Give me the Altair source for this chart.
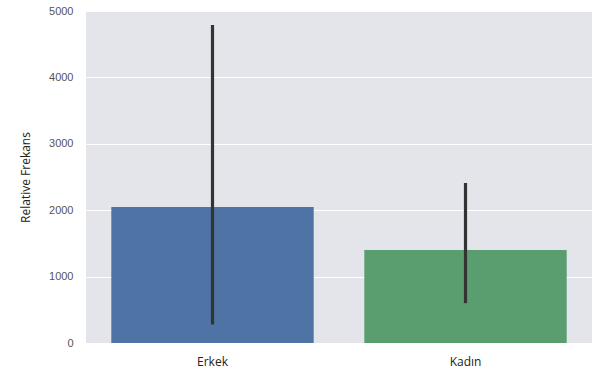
import altair as alt
import pandas as pd

categories = ["Erkek", "Kadın"]
values = [2050, 1400]
err_low = [280, 600]
err_high = [4790, 2410]
colors = ["#5073A6", "#5A9E6F"]

df = pd.DataFrame({"cinsiyet": categories, "deger": values, "lo": err_low, "hi": err_high})

x = alt.X("cinsiyet:N", sort=categories, title=None,
          scale=alt.Scale(paddingInner=0.2, paddingOuter=0.1),
          axis=alt.Axis(labelAngle=0, labelFontSize=12, labelColor="#222222", labelFont="Open Sans",
                        ticks=False, domain=False, labelPadding=13, grid=False))

bars = alt.Chart(df).mark_bar().encode(
    x=x,
    y=alt.Y("deger:Q", title="Relative Frekans",
            scale=alt.Scale(domain=[0, 5000], nice=False),
            axis=alt.Axis(values=[0, 1000, 2000, 3000, 4000, 5000], format="d", ticks=False, domain=False,
                          labelFontSize=11, labelColor="#555555", labelFont="Liberation Sans",
                          labelPadding=13, gridColor="white", gridWidth=1.2,
                          titleFont="Open Sans", titleFontSize=12, titleFontWeight="normal",
                          titleColor="#222222", titlePadding=16)),
    color=alt.Color("cinsiyet:N", scale=alt.Scale(domain=categories, range=colors), legend=None),
)

errs = alt.Chart(df).mark_rule(color="#333333", strokeWidth=3.2).encode(
    x=alt.X("cinsiyet:N", sort=categories),
    y="lo:Q",
    y2="hi:Q",
)

chart = (bars + errs).properties(
    width=506, height=332,
    autosize=alt.AutoSizeParams(type="none"),
    padding={"left": 86, "top": 11, "right": 19, "bottom": 35},
    background="white",
).configure_view(fill="#E4E5EB", stroke=None)

chart.save("out.html", embed_options={"renderer": "svg", "actions": False})
